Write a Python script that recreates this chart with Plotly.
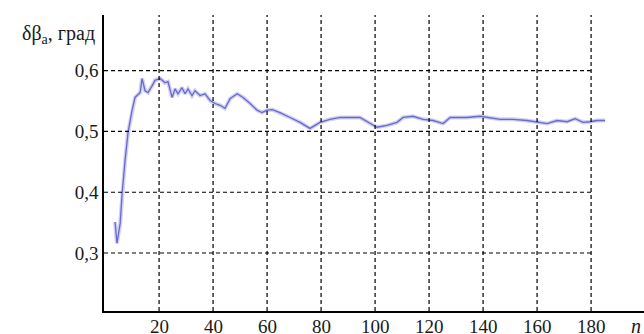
import plotly.graph_objects as go

n_vals = [3.7, 4.4, 5.6, 6.3, 7.4, 8.5, 10, 11.1, 13, 13.7, 14.8, 15.9, 17.4, 18.5, 20.4, 22.2, 23.3,
          24.8, 25.9, 27, 28.5, 29.6, 30.7, 32.2, 33.3, 35.2, 37, 38.9, 40.7, 42.6, 44.4, 46.3, 48.9,
          51.1, 53.7, 56.3, 58.1, 60, 61.9, 64.8, 68.5, 72.2, 75.9, 79.6, 83.3, 87, 94.4, 97.4, 100.7,
          104.4, 108.1, 110.4, 114, 117.8, 121.5, 125.2, 127.8, 134, 138.9, 146.3, 151.1, 156.3, 160,
          163.7, 167.4, 171.1, 174.1, 177, 179.6, 182.2, 185.2]
db_vals = [0.351, 0.316, 0.349, 0.398, 0.452, 0.498, 0.535, 0.556, 0.564, 0.587, 0.567, 0.564, 0.575,
           0.584, 0.587, 0.580, 0.582, 0.556, 0.570, 0.562, 0.572, 0.562, 0.570, 0.559, 0.567, 0.559,
           0.562, 0.551, 0.546, 0.543, 0.538, 0.554, 0.562, 0.556, 0.546, 0.535, 0.531, 0.535, 0.536,
           0.531, 0.523, 0.515, 0.505, 0.515, 0.520, 0.523, 0.523, 0.515, 0.507, 0.510, 0.515, 0.523,
           0.525, 0.520, 0.518, 0.513, 0.523, 0.523, 0.525, 0.520, 0.520, 0.518, 0.516, 0.513, 0.518,
           0.516, 0.521, 0.515, 0.516, 0.518, 0.518]

x_ticks = [20, 40, 60, 80, 100, 120, 140, 160, 180]
x_ticklabels = ["20", "40", "60", "80", "100", "120", "140", "160", "180"]
y_ticks = [0.3, 0.4, 0.5, 0.6]
y_ticklabels = ["0,3", "0,4", "0,5", "0,6"]

FONT = "Liberation Serif"
TXT = "#1a1a1a"
fig = go.Figure()
fig.add_trace(go.Scatter(x=n_vals, y=db_vals, mode="lines",
                         line=dict(color="rgba(120,120,220,0.35)", width=4), hoverinfo="skip"))
fig.add_trace(go.Scatter(x=n_vals, y=db_vals, mode="lines",
                         line=dict(color="rgb(105,105,205)", width=1.3)))

shapes = []
for yv in y_ticks:
    shapes.append(dict(type="line", xref="x", yref="y", x0=-0.4, x1=x_ticks[-1], y0=yv, y1=yv,
                       line=dict(color="black", width=1.2, dash="4px,3px")))
for xv in x_ticks:
    shapes.append(dict(type="line", xref="x", yref="paper", x0=xv, x1=xv, y0=0, y1=1,
                       line=dict(color="black", width=1.2, dash="4px,3px")))

annotations = [
    dict(text=lab, xref="x", yref="paper", x=xv, y=0, xanchor="center", yanchor="middle",
         yshift=-15, showarrow=False, font=dict(family=FONT, size=19, color=TXT))
    for xv, lab in zip(x_ticks, x_ticklabels)
]
annotations += [
    dict(text="δβ<sub>а</sub>, град", xref="paper", yref="paper", x=-0.013, y=0.935,
         xanchor="right", yanchor="middle", showarrow=False, font=dict(family=FONT, size=20, color=TXT)),
    dict(text="<i>n</i>", xref="paper", yref="paper", x=0.985, y=0, yshift=-15,
         xanchor="center", yanchor="middle", showarrow=False, font=dict(family=FONT, size=20, color=TXT)),
]

fig.update_layout(
    width=644, height=334,
    margin=dict(l=104, r=0, t=15, b=23),
    paper_bgcolor="white", plot_bgcolor="white",
    showlegend=False,
    shapes=shapes,
    font=dict(family=FONT, size=19, color=TXT),
    xaxis=dict(range=[-0.4, 199.6], showgrid=False, zeroline=False,
               tickvals=x_ticks, showticklabels=False, ticks="",
               showline=True, linecolor="black", linewidth=1.5),
    yaxis=dict(range=[0.2046, 0.6916], showgrid=False, zeroline=False,
               tickvals=y_ticks, ticktext=y_ticklabels, ticks="",
               showline=True, linecolor="black", linewidth=1.5),
    annotations=annotations,
)
fig.write_html("out.html", config={"displayModeBar": False},
               post_script="document.body.style.margin='0';document.body.style.overflow='hidden';")
